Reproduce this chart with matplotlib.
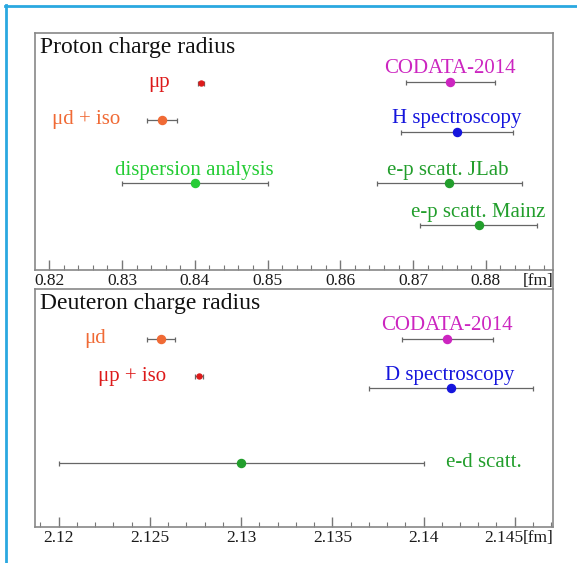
import numpy as np
import matplotlib.pyplot as plt
from matplotlib.lines import Line2D
from matplotlib.ticker import MultipleLocator, FuncFormatter
from matplotlib.transforms import ScaledTranslation

plt.rcParams['font.family'] = ['Liberation Serif', 'DejaVu Serif']

# proton radius results [fm]
p_labels = ['\u03bcp', '\u03bcd + iso', 'dispersion analysis', 'CODATA-2014',
            'H spectroscopy', 'e-p scatt. JLab', 'e-p scatt. Mainz']
p_values = [0.84087, 0.8355, 0.840, 0.8751, 0.8760, 0.875, 0.879]
p_errors = [0.00039, 0.0020, 0.010, 0.0061, 0.0077, 0.010, 0.008]
p_colors = ['#dd1a1a', '#f06a35', '#25cc35', '#cc25c0', '#1515dd', '#229e2c', '#229e2c']

# deuteron radius results [fm]
d_labels = ['\u03bcd', '\u03bcp + iso', 'e-d scatt.', 'CODATA-2014', 'D spectroscopy']
d_values = [2.12562, 2.12771, 2.130, 2.1413, 2.1415]
d_errors = [0.00078, 0.00022, 0.010, 0.0025, 0.0045]
d_colors = ['#f06a35', '#dd1a1a', '#229e2c', '#cc25c0', '#1515dd']

# layout: row height (axes fraction), label offset in pixels, alignment
p_rows = [0.790, 0.633, 0.367, 0.792, 0.584, 0.366, 0.189]
p_offs = [(-31, 0), (-42, 0), (0, 8), (0, 9), (0, 9), (-2, 8), (0, 8)]
p_align = ['left', 'left', 'above', 'above', 'above', 'above', 'above']
p_small = [True, False, False, False, False, False, False]

d_rows = [0.791, 0.633, 0.270, 0.790, 0.585]
d_offs = [(-55, 0), (-33, 0), (205, 0), (0, 9), (-1, 8)]
d_align = ['left', 'left', 'right', 'above', 'above']
d_small = [False, True, False, False, False]

W, H = 577, 563
fig = plt.figure(figsize=(W / 100, H / 100), dpi=100)


def panel(top, bottom, xlim, major, minor, title, labels, values, errors,
          colors, rows, offs, align, small):
    ax = fig.add_axes([35 / W, 1 - bottom / H, 518 / W, (bottom - top) / H])
    ax.set_xlim(*xlim)
    ax.set_ylim(0, 1)
    ax.set_yticks([])
    ax.xaxis.set_major_locator(MultipleLocator(major))
    ax.xaxis.set_minor_locator(MultipleLocator(minor))
    ax.xaxis.set_major_formatter(FuncFormatter(lambda x, pos: '%g' % round(x, 4)))
    ax.tick_params(axis='x', which='major', direction='in', length=7,
                   width=1, color='#777777', labelsize=12.5, pad=2,
                   labelcolor='#1a1a1a')
    ax.tick_params(axis='x', which='minor', direction='in', length=3.5,
                   width=0.8, color='#777777')
    for s in ax.spines.values():
        s.set_color('#888888')
        s.set_linewidth(1.2)
    ax.text(0.01, 0.985, title, transform=ax.transAxes, fontsize=17,
            va='top', ha='left', color='#111111')
    ax.text(1.0, -0.012, '[fm]', transform=ax.transAxes, fontsize=12.5,
            va='top', ha='right', color='#1a1a1a')

    for lab, v, e, c, r, o, a, sm in zip(labels, values, errors, colors,
                                         rows, offs, align, small):
        ax.errorbar(v, r, xerr=e, fmt='o', color=c, ms=3.6 if sm else 5.8,
                    mec=c, ecolor='#666666', elinewidth=0.9, capsize=1.8,
                    capthick=0.9, zorder=3)
        if a == 'left':
            ha, va = 'right', 'center'
        elif a == 'right':
            ha, va = 'left', 'center'
        else:
            ha, va = 'center', 'baseline'
        ax.annotate(lab, (v, r), xytext=o, textcoords='offset pixels',
                    ha=ha, va=va, fontsize=15, color=c)
    return ax


panel(33, 270, (0.81804, 0.88923), 0.01, 0.002, 'Proton charge radius',
      p_labels, p_values, p_errors, p_colors, p_rows, p_offs, p_align, p_small)
ax_d = panel(289, 527, (2.1187, 2.1471), 0.005, 0.001, 'Deuteron charge radius',
             d_labels, d_values, d_errors, d_colors, d_rows, d_offs, d_align, d_small)

# nudge the last deuteron tick label left so it clears the unit
ax_d.set_xticks(np.arange(2.12, 2.1451, 0.005))
last = ax_d.xaxis.get_major_ticks()[-1].label1
last.set_transform(last.get_transform() + ScaledTranslation(-0.11, 0, fig.dpi_scale_trans))

# right edge running between the two panels
fig.add_artist(Line2D([553 / W, 553 / W], [1 - 270 / H, 1 - 289 / H],
                      color='#888888', lw=1.2))

# blue frame
fig.add_artist(Line2D([5.5 / W, 5.5 / W], [0, 1 - 5 / H], color='#2aa8e0', lw=2))
fig.add_artist(Line2D([5 / W, 1], [1 - 5.5 / H, 1 - 5.5 / H], color='#2aa8e0', lw=2))

fig.savefig('out.png', dpi=100, facecolor='white')
